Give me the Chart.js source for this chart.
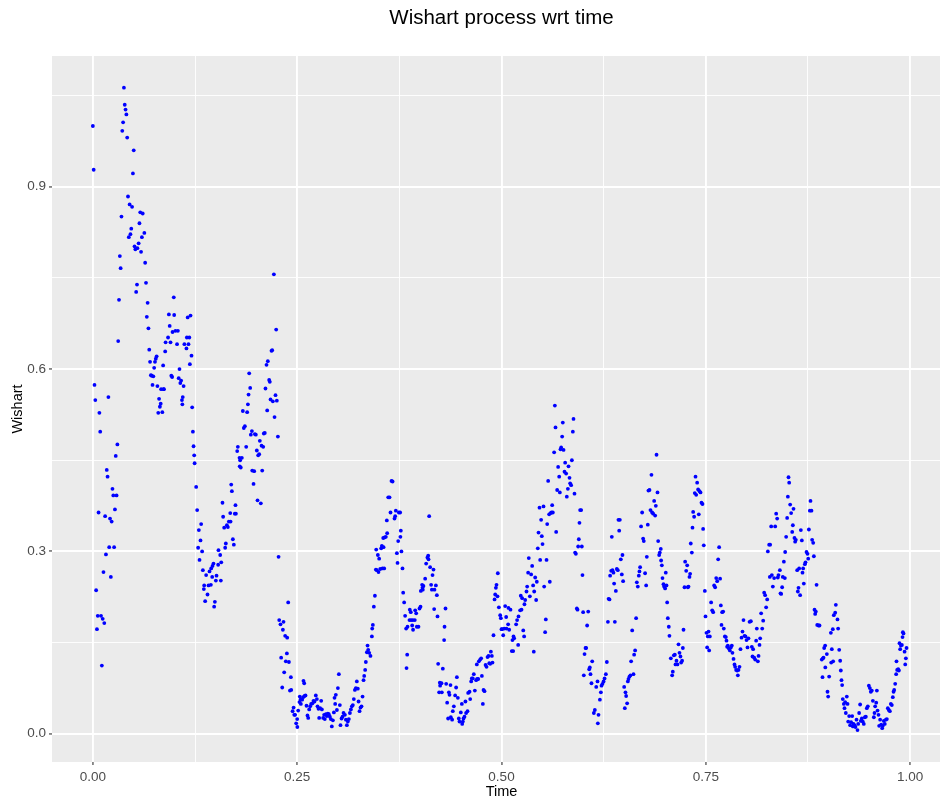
<!DOCTYPE html>
<html>
<head>
<meta charset="utf-8">
<title>Wishart process wrt time</title>
<script src="https://cdn.jsdelivr.net/npm/chart.js@4/dist/chart.umd.min.js"></script>
<style>
  html, body { margin: 0; padding: 0; background: #ffffff; overflow: hidden; }
  #wrap { width: 940px; height: 803px; overflow: hidden; position: relative; }
  #c { display: block; }
</style>
</head>
<body>
<div id="wrap"><canvas id="c" width="958" height="803" style="width:958px;height:803px"></canvas></div>
<script>
// Observation times of the simulated Wishart process
const time = [
  0.000,0.001,0.002,0.003,0.004,0.005,0.006,0.007,0.008,0.009,
  0.010,0.011,0.012,0.013,0.014,0.015,0.016,0.017,0.018,0.019,
  0.020,0.021,0.022,0.023,0.024,0.025,0.026,0.027,0.028,0.029,
  0.030,0.031,0.032,0.033,0.034,0.035,0.036,0.037,0.038,0.039,
  0.040,0.041,0.042,0.043,0.044,0.045,0.046,0.047,0.048,0.049,
  0.050,0.051,0.052,0.053,0.054,0.0545,0.056,0.057,0.058,0.059,
  0.060,0.061,0.063,0.064,0.065,0.066,0.067,0.068,0.069,0.070,
  0.071,0.072,0.073,0.074,0.075,0.076,0.077,0.078,0.079,0.080,
  0.081,0.082,0.083,0.0835,0.085,0.086,0.0865,0.087,0.0885,0.089,
  0.092,0.093,0.094,0.095,0.096,0.097,0.0975,0.099,0.0995,0.101,
  0.103,0.104,0.105,0.106,0.107,0.108,0.109,0.1095,0.110,0.111,
  0.112,0.1145,0.115,0.116,0.117,0.118,0.1187,0.1195,0.1207,0.1215,
  0.1224,0.1232,0.124,0.1245,
  0.1264,0.1276,0.1288,0.1297,0.1305,0.1317,0.1325,0.1337,0.1346,0.1358,
  0.1362,0.1374,0.1386,0.1403,0.1415,0.1427,0.1444,0.1448,0.1460,0.1464,
  0.1476,0.1484,0.1493,0.1505,0.1513,0.1533,0.1537,0.1558,0.1566,0.1571,
  0.1586,0.1594,0.1607,0.1619,0.1627,0.1640,0.1652,0.1664,0.1681,0.1685,
  0.1693,0.1701,0.1713,0.1725,0.1737,0.1745,0.1750,0.1766,0.1774,0.1794,
  0.1797,0.1802,0.1810,0.1823,0.1835,0.1847,0.1860,0.1876,0.1888,0.1897,
  0.1905,0.1913,0.1925,0.1933,0.1946,0.1950,0.1966,0.1974,0.1982,0.1994,
  0.2006,0.2015,0.2023,0.2035,0.2043,0.2055,0.2064,0.2072,0.2084,0.2092,
  0.2104,0.2112,0.2125,0.2133,0.2141,0.2157,0.2165,0.2174,0.2186,0.2194,
  0.2202,0.2215,0.2223,0.2235,0.2243,0.2251,0.2264,0.2272,0.2280,0.2296,
  0.2304,0.2317,0.2325,0.2333,0.2341,0.2353,0.2361,0.2374,0.2378,0.2390,
  0.2399,0.2411,0.2423,0.2427,0.2444,0.2456,0.2464,
  0.2475,0.2488,0.2500,0.2502,0.2512,0.2528,0.2532,0.2541,0.2545,0.2561,
  0.2573,0.2577,0.2586,0.2590,0.2602,0.2614,0.2626,0.2635,0.2647,0.2659,
  0.2671,0.2687,0.2700,0.2712,0.2728,0.2741,0.2749,0.2761,0.2769,0.2781,
  0.2794,0.2802,0.2818,0.2830,0.2838,0.2851,0.2863,0.2875,0.2887,0.2900,
  0.2912,0.2924,0.2937,0.2949,0.2957,0.2965,0.2973,0.2986,0.2998,0.3010,
  0.3022,0.3030,0.3043,0.3055,0.3067,0.3084,0.3096,0.3108,0.3120,0.3132,
  0.3145,0.3157,0.3169,0.3181,0.3193,0.3206,0.3218,0.3230,0.3242,0.3251,
  0.3263,0.3275,0.3287,0.3300,0.3312,0.3320,0.3332,0.3340,0.3353,0.3361,
  0.3369,0.3381,0.3397,0.3414,0.3418,0.3426,0.3438,0.3451,0.3463,0.3467,
  0.3475,0.3487,0.3495,0.3503,0.3516,0.3528,0.3536,0.3544,0.3553,0.3557,
  0.3565,0.3569,0.3585,0.3597,0.3601,0.3614,0.3630,0.3642,0.3654,0.3667,
  0.3691,0.3699,0.3707,0.3720,0.3728,0.3736,0.3744,
  0.3760,0.3763,0.3768,0.3776,0.3789,0.3797,0.3809,0.3821,0.3833,0.3838,
  0.3846,0.3850,0.3874,0.3878,0.3890,0.3894,0.3907,0.3915,0.3918,0.3939,
  0.3944,0.3956,0.3964,0.3984,0.3997,0.4009,0.4013,0.4029,0.4033,0.4037,
  0.4045,0.4066,0.4078,0.4094,0.4103,0.4107,0.4115,0.4127,0.4139,0.4148,
  0.4156,0.4168,0.4176,0.4180,0.4197,0.4209,0.4217,0.4225,0.4237,0.4245,
  0.4249,0.4266,0.4270,0.4282,0.4298,0.4303,0.4315,0.4323,0.4335,0.4347,
  0.4356,0.4364,0.4376,0.4380,0.4396,0.4404,0.4417,0.4433,0.4445,0.4454,
  0.4466,0.4478,0.4486,0.4502,0.4515,0.4519,0.4527,0.4535,0.4547,0.4559,
  0.4567,0.4584,0.4592,0.4609,0.4617,0.4629,0.4637,0.4649,0.4661,0.4674,
  0.4690,0.4698,0.4702,0.4715,0.4723,0.4739,0.4751,0.4760,0.4772,0.4780,
  0.4792,0.4805,0.4817,0.4829,0.4841,0.4850,0.4862,0.4870,0.4882,0.4890,
  0.4902,0.4915,0.4923,0.4931,0.4939,0.4951,0.4955,0.4968,0.4984,0.4992,
  0.5000,0.5008,0.5021,0.5033,
  0.5045,0.5057,0.5061,0.5081,0.5085,0.5094,0.5110,0.5126,0.5134,0.5143,
  0.5147,0.5155,0.5179,0.5191,0.5204,0.5208,0.5228,0.5236,0.5245,0.5253,
  0.5266,0.5277,0.5281,0.5290,0.5306,0.5314,0.5326,0.5334,0.5347,0.5363,
  0.5375,0.5387,0.5395,0.5400,0.5412,0.5424,0.5432,0.5444,0.5453,0.5465,
  0.5473,0.5485,0.5493,0.5502,0.5514,0.5522,0.5534,0.5542,0.5551,0.5559,
  0.5571,0.5583,0.5591,0.5600,0.5612,0.5620,0.5628,0.5644,0.5653,0.5661,
  0.5669,0.5681,0.5693,0.5706,0.5714,0.5722,0.5730,0.5742,0.5750,0.5759,
  0.5771,0.5779,0.5791,0.5799,0.5812,0.5820,0.5832,0.5840,0.5852,0.5861,
  0.5873,0.5881,0.5893,0.5901,0.5910,0.5922,0.5930,0.5938,0.5946,0.5954,
  0.5962,0.5975,0.5983,0.5991,0.5999,0.6007,0.6016,0.6028,0.6036,0.6048,
  0.6061,0.6073,0.6081,0.6089,0.6101,0.6110,0.6130,0.6142,0.6159,0.6175,
  0.6179,0.6187,0.6204,0.6216,0.6224,0.6236,0.6249,0.6261,0.6277,0.6289,
  0.6302,0.6310,0.6322,
  0.6329,0.6342,0.6350,0.6358,0.6370,0.6378,0.6387,0.6399,0.6411,0.6423,
  0.6431,0.6440,0.6448,0.6460,0.6472,0.6480,0.6488,0.6501,0.6509,0.6517,
  0.6525,0.6537,0.6546,0.6554,0.6566,0.6578,0.6586,0.6599,0.6615,0.6623,
  0.6635,0.6647,0.6656,0.6668,0.6680,0.6688,0.6696,0.6708,0.6721,0.6733,
  0.6741,0.6757,0.6770,0.6778,0.6790,0.6798,0.6811,0.6823,0.6835,0.6843,
  0.6856,0.6868,0.6880,0.6888,0.6897,0.6909,0.6917,0.6929,0.6937,0.6949,
  0.6953,0.6962,0.6970,0.6982,0.6990,0.7002,0.7010,0.7019,0.7027,0.7035,
  0.7047,0.7055,0.7072,0.7088,0.7096,0.7109,0.7121,0.7129,0.7141,0.7153,
  0.7166,0.7178,0.7190,0.7198,0.7210,0.7219,0.7227,0.7239,0.7247,0.7260,
  0.7272,0.7280,0.7288,0.7300,0.7308,0.7316,0.7329,0.7337,0.7345,0.7357,
  0.7365,0.7374,0.7382,0.7394,0.7406,0.7414,0.7423,0.7435,0.7447,0.7459,
  0.7467,0.7475,0.7488,0.7496,0.7508,0.7516,0.7524,0.7533,0.7541,0.7549,
  0.7565,0.7578,0.7590,0.7602,
  0.7614,0.7627,0.7639,0.7651,0.7663,0.7675,0.7684,0.7692,0.7700,0.7712,
  0.7720,0.7733,0.7745,0.7753,0.7761,0.7769,0.7782,0.7794,0.7806,0.7818,
  0.7826,0.7839,0.7851,0.7859,0.7871,0.7883,0.7892,0.7900,0.7912,0.7924,
  0.7937,0.7949,0.7961,0.7973,0.7986,0.7998,0.8010,0.8022,0.8035,0.8051,
  0.8063,0.8071,0.8079,0.8092,0.8104,0.8116,0.8124,0.8137,0.8145,0.8157,
  0.8165,0.8177,0.8190,0.8202,0.8214,0.8226,0.8238,0.8251,0.8259,0.8275,
  0.8283,0.8287,0.8300,0.8308,0.8320,0.8336,0.8349,0.8361,0.8373,0.8381,
  0.8389,0.8406,0.8414,0.8422,0.8434,0.8442,0.8455,0.8467,0.8471,0.8483,
  0.8495,0.8504,0.8512,0.8520,0.8532,0.8544,0.8557,0.8565,0.8573,0.8585,
  0.8593,0.8601,0.8618,0.8626,0.8634,0.8642,0.8654,0.8663,0.8675,0.8683,
  0.8691,0.8699,0.8712,0.8720,0.8732,0.8744,0.8753,0.8761,0.8773,0.8781,
  0.8793,0.8801,0.8814,0.8822,0.8830,0.8838,0.8846,0.8855,0.8863,0.8879,
  0.8891,0.8928,
  0.8919,0.8932,0.8940,0.8948,0.8960,0.8962,0.8981,0.8989,0.8997,0.9009,
  0.9030,0.9034,0.9042,0.9054,0.9058,0.9066,0.9083,0.9091,0.9111,0.9119,
  0.9132,0.9144,0.9152,0.9160,0.9168,0.9176,0.9189,0.9197,0.9205,0.9213,
  0.9225,0.9234,0.9242,0.9254,0.9266,0.9278,0.9291,0.9299,0.9307,0.9319,
  0.9331,0.9344,0.9356,0.9364,0.9376,0.9388,0.9397,0.9409,0.9421,0.9433,
  0.9446,0.9458,0.9470,0.9482,0.9495,0.9507,0.9519,0.9531,0.9544,0.9556,
  0.9564,0.9572,0.9585,0.9593,0.9601,0.9613,0.9621,0.9633,0.9646,0.9658,
  0.9666,0.9678,0.9690,0.9703,0.9715,0.9727,0.9739,0.9752,0.9764,0.9776,
  0.9788,0.9797,0.9805,0.9817,0.9829,0.9833,0.9841,0.9854,0.9862,0.9870,
  0.9878,0.9887,0.9899,0.9907,0.9911,0.9919,0.9932,0.9940,0.9948,0.9956
];

// Process value at each observation time
const wishart = [
  1.000,0.928,0.574,0.549,0.236,0.172,0.194,0.364,0.528,0.497,
  0.194,0.112,0.189,0.266,0.182,0.358,0.295,0.434,0.423,0.554,
  0.307,0.354,0.258,0.349,0.403,0.392,0.307,0.369,0.457,0.392,
  0.476,0.646,0.714,0.786,0.766,0.851,0.992,1.006,1.063,1.035,
  1.027,1.019,0.981,0.884,0.817,0.871,0.822,0.831,0.867,0.922,
  0.960,0.802,0.797,0.727,0.739,0.799,0.807,0.840,0.858,0.793,
  0.817,0.856,0.824,0.775,0.742,0.686,0.709,0.667,0.632,0.612,
  0.590,0.589,0.574,0.588,0.602,0.612,0.617,0.621,0.572,0.528,
  0.551,0.538,0.543,0.567,0.529,0.606,0.567,0.567,0.629,0.644,
  0.652,0.690,0.671,0.644,0.589,0.587,0.661,0.718,0.689,0.663,
  0.641,0.663,0.585,0.600,0.577,0.581,0.549,0.542,0.554,0.572,
  0.641,0.634,0.652,0.685,0.641,0.652,0.608,0.688,0.622,0.537,
  0.497,0.473,0.458,0.445,
  0.406,0.368,0.306,0.335,0.286,0.318,0.345,0.300,0.269,0.238,
  0.244,0.218,0.261,0.229,0.244,0.267,0.245,0.272,0.258,0.276,
  0.280,0.209,0.217,0.252,0.260,0.278,0.302,0.294,0.252,0.282,
  0.380,0.357,0.339,0.306,0.313,0.343,0.340,0.349,0.363,0.349,
  0.410,0.399,0.320,0.311,0.362,0.376,0.362,0.465,0.472,0.454,
  0.440,0.450,0.438,0.454,0.531,0.503,0.506,0.472,0.529,0.542,
  0.558,0.593,0.569,0.492,0.498,0.433,0.411,0.432,0.493,0.492,
  0.466,0.384,0.458,0.460,0.482,0.379,0.474,0.433,0.472,0.494,
  0.495,0.568,0.607,0.532,0.613,0.582,0.579,0.550,0.630,0.631,
  0.547,0.756,0.521,0.557,0.665,0.548,0.489,0.291,0.187,0.180,
  0.125,0.076,0.171,0.184,0.101,0.161,0.119,0.132,0.158,0.216,
  0.118,0.071,0.093,0.072,0.037,0.043,0.031,
  0.031,0.017,0.024,0.011,0.038,0.052,0.061,0.056,0.049,0.056,
  0.060,0.087,0.083,0.062,0.063,0.046,0.030,0.026,0.040,0.045,
  0.049,0.050,0.054,0.053,0.063,0.057,0.045,0.041,0.026,0.042,
  0.054,0.040,0.026,0.031,0.024,0.032,0.029,0.033,0.032,0.028,
  0.024,0.012,0.022,0.035,0.059,0.049,0.064,0.039,0.075,0.098,
  0.047,0.014,0.025,0.028,0.034,0.031,0.023,0.014,0.020,0.024,
  0.034,0.040,0.045,0.047,0.057,0.072,0.075,0.086,0.074,0.053,
  0.037,0.043,0.045,0.061,0.088,0.095,0.105,0.118,0.134,0.145,
  0.138,0.133,0.128,0.160,0.173,0.179,0.209,0.227,0.270,0.303,
  0.269,0.294,0.266,0.288,0.271,0.305,0.309,0.272,0.322,0.307,
  0.272,0.323,0.324,0.351,0.330,0.389,0.389,0.364,0.416,0.415,
  0.354,0.358,0.367,0.297,0.281,0.317,0.364,
  0.364,0.324,0.334,0.300,0.272,0.232,0.216,0.194,0.173,0.108,
  0.130,0.176,0.187,0.204,0.200,0.187,0.178,0.187,0.171,0.187,
  0.203,0.198,0.176,0.176,0.206,0.209,0.235,0.245,0.240,0.237,
  0.243,0.255,0.280,0.290,0.293,0.287,0.358,0.274,0.245,0.237,
  0.261,0.270,0.205,0.237,0.244,0.228,0.193,0.115,0.068,0.084,
  0.079,0.083,0.068,0.107,0.154,0.176,0.206,0.082,0.051,0.025,
  0.068,0.064,0.080,0.027,0.023,0.037,0.045,0.063,0.076,0.093,
  0.059,0.025,0.020,0.035,0.049,0.016,0.020,0.025,0.028,0.053,
  0.034,0.037,0.067,0.069,0.057,0.086,0.091,0.091,0.098,0.071,
  0.088,0.114,0.090,0.090,0.119,0.122,0.124,0.095,0.049,0.072,
  0.070,0.113,0.110,0.126,0.128,0.116,0.115,0.135,0.128,0.117,
  0.162,0.221,0.229,0.240,0.245,0.226,0.264,0.208,0.195,0.190,
  0.172,0.172,0.162,0.173,
  0.210,0.192,0.173,0.180,0.207,0.171,0.204,0.136,0.154,0.136,
  0.160,0.157,0.180,0.187,0.146,0.193,0.203,0.227,0.204,0.223,
  0.170,0.160,0.213,0.220,0.234,0.242,0.265,0.289,0.226,0.262,
  0.276,0.244,0.135,0.234,0.257,0.220,0.250,0.305,0.331,0.372,
  0.286,0.352,0.325,0.312,0.374,0.242,0.167,0.188,0.286,0.345,
  0.416,0.361,0.250,0.363,0.364,0.376,0.364,0.463,0.540,0.504,
  0.332,0.401,0.439,0.423,0.397,0.468,0.471,0.489,0.512,0.467,
  0.431,0.446,0.428,0.390,0.403,0.440,0.421,0.412,0.409,0.450,
  0.497,0.518,0.395,0.298,0.296,0.206,0.204,0.308,0.320,0.347,
  0.368,0.368,0.308,0.261,0.200,0.096,0.131,0.141,0.141,0.178,
  0.201,0.106,0.109,0.098,0.083,0.119,0.034,0.039,0.077,0.086,
  0.017,0.031,0.056,0.068,0.079,0.082,0.086,0.091,0.098,0.118,
  0.184,0.222,0.221,
  0.260,0.268,0.324,0.269,0.265,0.247,0.184,0.235,0.271,0.269,
  0.352,0.334,0.352,0.287,0.262,0.294,0.251,0.077,0.042,0.068,
  0.062,0.050,0.086,0.090,0.094,0.096,0.119,0.170,0.098,0.130,
  0.137,0.190,0.249,0.242,0.260,0.267,0.274,0.341,0.364,0.321,
  0.317,0.264,0.244,0.291,0.344,0.400,0.401,0.368,0.426,0.364,
  0.362,0.383,0.359,0.375,0.459,0.397,0.317,0.294,0.298,0.304,
  0.285,0.277,0.256,0.246,0.242,0.239,0.265,0.244,0.216,0.190,
  0.176,0.161,0.124,0.096,0.102,0.129,0.130,0.114,0.120,0.114,
  0.147,0.133,0.127,0.117,0.120,0.141,0.171,0.241,0.283,0.268,
  0.277,0.241,0.242,0.258,0.263,0.313,0.298,0.339,0.365,0.357,
  0.396,0.423,0.393,0.413,0.402,0.361,0.399,0.397,0.380,0.378,
  0.337,0.310,0.235,0.193,0.166,0.142,0.160,0.168,0.137,0.160,
  0.216,0.203,0.200,0.244,
  0.241,0.256,0.251,0.287,0.307,0.255,0.211,0.179,0.200,0.201,
  0.173,0.160,0.159,0.153,0.143,0.145,0.140,0.137,0.142,0.145,
  0.133,0.123,0.114,0.110,0.105,0.104,0.096,0.105,0.110,0.139,
  0.158,0.168,0.187,0.161,0.160,0.154,0.142,0.157,0.184,0.185,
  0.143,0.127,0.139,0.125,0.122,0.153,0.173,0.119,0.128,0.146,
  0.157,0.198,0.173,0.186,0.232,0.228,0.208,0.221,0.300,0.311,
  0.258,0.311,0.341,0.261,0.242,0.256,0.341,0.362,0.354,0.257,
  0.261,0.269,0.231,0.230,0.241,0.258,0.283,0.256,0.299,0.324,
  0.355,0.390,0.422,0.413,0.377,0.363,0.332,0.343,0.370,0.322,
  0.316,0.319,0.269,0.234,0.240,0.272,0.228,0.335,0.318,0.265,
  0.272,0.247,0.279,0.282,0.299,0.296,0.288,0.336,0.367,0.383,
  0.367,0.319,0.314,0.292,0.204,0.197,0.201,0.245,0.179,0.178,
  0.178,0.093,
  0.122,0.124,0.125,0.141,0.145,0.109,0.131,0.069,0.061,0.094,
  0.166,0.117,0.139,0.172,0.119,0.195,0.199,0.212,0.188,0.173,
  0.138,0.120,0.104,0.088,0.080,0.057,0.049,0.042,0.052,0.034,
  0.061,0.049,0.020,0.029,0.014,0.019,0.029,0.012,0.016,0.014,
  0.011,0.023,0.006,0.016,0.034,0.048,0.021,0.025,0.020,0.016,
  0.027,0.028,0.042,0.045,0.079,0.075,0.069,0.071,0.054,0.027,
  0.034,0.045,0.051,0.071,0.038,0.031,0.013,0.023,0.015,0.009,
  0.013,0.021,0.016,0.023,0.024,0.042,0.039,0.037,0.049,0.047,
  0.060,0.069,0.072,0.082,0.098,0.119,0.105,0.106,0.104,0.149,
  0.139,0.145,0.146,0.159,0.167,0.165,0.135,0.114,0.124,0.141
];

// Axis breaks: majors are labelled, minors only get a thin grid line
const xBreaks = [0, 0.125, 0.25, 0.375, 0.5, 0.625, 0.75, 0.875, 1];
const xLabels = ['0.00', '', '0.25', '', '0.50', '', '0.75', '', '1.00'];
const yBreaks = [0, 0.15, 0.3, 0.45, 0.6, 0.75, 0.9, 1.05];
const yLabels = ['0.0', '', '0.3', '', '0.6', '', '0.9', ''];

const FONT = "'Liberation Sans', Arial, Helvetica, sans-serif";
const TICK_TEXT = '#4D4D4D';
const TICK_MARK = '#333333';

const points = time.map((t, i) => ({ x: t, y: wishart[i] }));

// Grey panel behind the grid plus the plot / axis titles
const panelAndTitles = {
  id: 'panelAndTitles',
  beforeDraw(chart) {
    const { ctx, chartArea: a } = chart;
    ctx.save();
    ctx.fillStyle = '#EBEBEB';
    ctx.fillRect(a.left, a.top, a.right - a.left, a.bottom - a.top);
    ctx.restore();
  },
  afterDraw(chart) {
    const { ctx, chartArea: a } = chart;
    const cx = (a.left + a.right) / 2;
    const cy = (a.top + a.bottom) / 2;
    ctx.save();
    ctx.fillStyle = '#000000';
    ctx.textAlign = 'center';
    ctx.textBaseline = 'middle';
    ctx.font = '20.5px ' + FONT;
    ctx.fillText('Wishart process wrt time', cx, 18);
    ctx.font = '14.5px ' + FONT;
    ctx.fillText('Time', cx, 792);
    ctx.translate(18, cy);
    ctx.rotate(-Math.PI / 2);
    ctx.fillText('Wishart', 0, 0);
    ctx.restore();
  }
};

function axisGrid(labels) {
  return {
    color: '#FFFFFF',
    lineWidth: c => (labels[c.index] ? 1.9 : 0.9),
    drawTicks: true,
    tickLength: 3,
    tickWidth: c => (labels[c.index] ? 1.1 : 0),
    tickColor: c => (labels[c.index] ? TICK_MARK : 'rgba(0,0,0,0)')
  };
}

new Chart(document.getElementById('c'), {
  type: 'scatter',
  data: {
    datasets: [{
      data: points,
      backgroundColor: '#0000FF',
      borderWidth: 0,
      pointRadius: 1.9,
      pointHoverRadius: 1.9
    }]
  },
  options: {
    responsive: false,
    animation: false,
    devicePixelRatio: 1,
    events: [],
    layout: { padding: { left: 0, right: 7, top: 56, bottom: 0 } },
    plugins: { legend: { display: false }, title: { display: false }, tooltip: { enabled: false } },
    scales: {
      x: {
        type: 'linear',
        min: -0.05,
        max: 1.05,
        afterBuildTicks: s => { s.ticks = xBreaks.map(v => ({ value: v })); },
        afterFit: s => { s.height = 41; },
        border: { display: false },
        grid: axisGrid(xLabels),
        ticks: {
          autoSkip: false,
          maxRotation: 0,
          padding: 4,
          color: TICK_TEXT,
          font: { family: FONT, size: 13.5 },
          callback: (v, i) => xLabels[i]
        }
      },
      y: {
        type: 'linear',
        min: -0.0466,
        max: 1.1152,
        afterBuildTicks: s => { s.ticks = yBreaks.map(v => ({ value: v })); },
        afterFit: s => { s.width = 52; },
        border: { display: false },
        grid: axisGrid(yLabels),
        ticks: {
          autoSkip: false,
          padding: 3,
          color: TICK_TEXT,
          font: { family: FONT, size: 13.5 },
          callback: (v, i) => yLabels[i]
        }
      }
    }
  },
  plugins: [panelAndTitles]
});
</script>
</body>
</html>
